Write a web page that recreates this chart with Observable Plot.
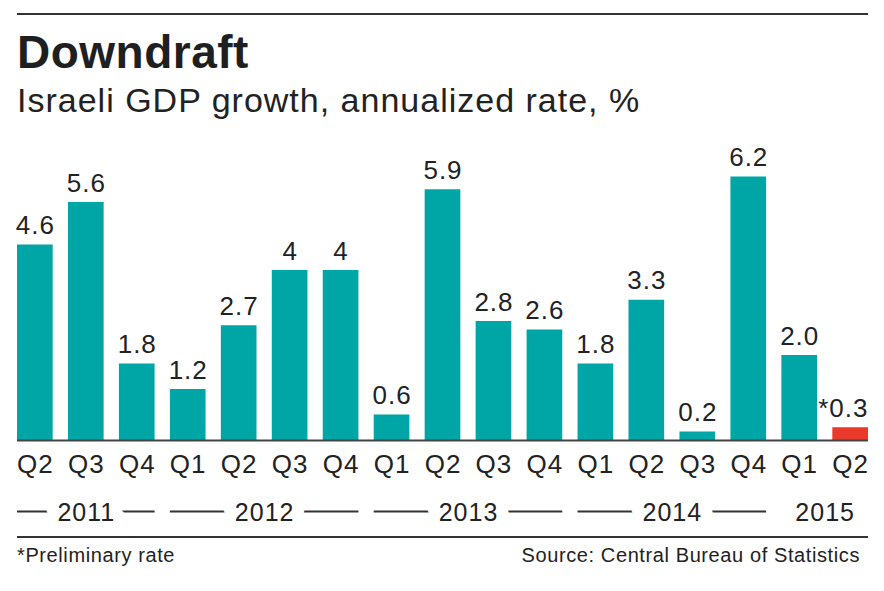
<!DOCTYPE html>
<html>
<head>
<meta charset="utf-8">
<script src="https://cdn.jsdelivr.net/npm/d3@7"></script>
<script src="https://cdn.jsdelivr.net/npm/@observablehq/plot@0.6"></script>
<style>
  html, body { margin: 0; padding: 0; background: #fff; }
  body { width: 884px; height: 591px; position: relative; overflow: hidden;
         font-family: "Liberation Sans", Arial, Helvetica, sans-serif; color: #222; }
  .rule { position: absolute; left: 17px; width: 851px; height: 2px; background: #333; }
  #title { position: absolute; left: 17px; top: 29px; font-size: 46px; line-height: 46px;
           font-weight: bold; letter-spacing: 0.5px; white-space: nowrap; color: #1f1f1f; }
  #subtitle { position: absolute; left: 17px; top: 83px; font-size: 34px; line-height: 34px;
              letter-spacing: 1px; white-space: nowrap; color: #222; }
  #chart { position: absolute; left: 0; top: 130px; }
  #chart text { letter-spacing: 1px; }
  .foot { position: absolute; top: 545px; font-size: 20px; line-height: 20px;
          letter-spacing: 0.6px; white-space: nowrap; color: #222; }
</style>
</head>
<body>
<div class="rule" style="top:13px"></div>
<div id="title">Downdraft</div>
<div id="subtitle">Israeli GDP growth, annualized rate, %</div>
<div id="chart"></div>
<div class="rule" style="top:536px"></div>
<div class="foot" style="left:17px">*Preliminary rate</div>
<div class="foot" style="right:24px">Source: Central Bureau of Statistics</div>
<script>
// ---- data ----
const quarters = ["Q2","Q3","Q4","Q1","Q2","Q3","Q4","Q1","Q2","Q3","Q4","Q1","Q2","Q3","Q4","Q1","Q2"];
const yearOf   = [2011,2011,2011,2012,2012,2012,2012,2013,2013,2013,2013,2014,2014,2014,2014,2015,2015];
const values   = [4.6,5.6,1.8,1.2,2.7,4.0,4.0,0.6,5.9,2.8,2.6,1.8,3.3,0.2,6.2,2.0,0.3];
const valueLabels = ["4.6","5.6","1.8","1.2","2.7","4","4","0.6","5.9","2.8","2.6","1.8","3.3","0.2","6.2","2.0","*0.3"];
const preliminary = [false,false,false,false,false,false,false,false,false,false,false,false,false,false,false,false,true];
const years = [2011, 2012, 2013, 2014, 2015];
const yearDashed = [true, true, true, true, false];

const teal = "#00a6a5";
const red = "#e8392b";
const ink = "#222";

const rows = quarters.map((q, i) => ({
  key: `${yearOf[i]} ${q}`,
  q, year: yearOf[i], value: values[i], label: valueLabels[i],
  status: preliminary[i] ? "prelim" : "final"
}));
const keys = rows.map(d => d.key);

const width = 884, height = 400;
const marginLeft = 17, marginRight = 16, marginTop = 12.5, marginBottom = 90;
const paddingInner = 0.3;
const step = (width - marginLeft - marginRight) / (keys.length - paddingInner);
const bandwidth = step * (1 - paddingInner);

const groups = years.map((y, j) => {
  const ks = rows.filter(d => d.year === y).map(d => d.key);
  const n = ks.length;
  return {
    year: String(y), first: ks[0], last: ks[n - 1],
    mid: ks[Math.floor((n - 1) / 2)], even: n % 2 === 0, dashed: yearDashed[j]
  };
});

const normalRows = rows.filter(d => d.status === "final");
const prelimRows = rows.filter(d => d.status === "prelim");

const plot = Plot.plot({
  width, height, marginLeft, marginRight, marginTop, marginBottom,
  style: { fontFamily: "'Liberation Sans', Arial, Helvetica, sans-serif", color: ink, overflow: "visible", background: "transparent" },
  x: { domain: keys, paddingInner, paddingOuter: 0, round: false, axis: null },
  y: { domain: [0, 7], axis: null },
  color: { domain: ["final", "prelim"], range: [teal, red] },
  marks: [
    Plot.barY(rows, { x: "key", y: "value", fill: "status" }),
    Plot.ruleY([0], { stroke: "#444", strokeWidth: 2 }),
    Plot.text(normalRows, { x: "key", y: "value", text: "label", lineAnchor: "bottom", dy: -11, fontSize: 26, fill: ink }),
    Plot.text(prelimRows, { x: "key", y: "value", text: "label", lineAnchor: "bottom", dy: -11, fontSize: 26, fill: ink,
                            textAnchor: "end", dx: bandwidth / 2 }),
    Plot.axisX({ domain: keys, tickSize: 0, tickPadding: 14, fontSize: 26, label: null,
                 tickFormat: k => k.split(" ")[1], fill: ink }),
    Plot.ruleY(groups.filter(g => g.dashed), { x1: "first", x2: "last", y: 0, dy: 71, stroke: "#333", strokeWidth: 2 }),
    Plot.text(groups.filter(g => !g.even), { x: "mid", y: 0, text: "year", lineAnchor: "bottom", dy: 80,
                 fontSize: 25, fill: ink, stroke: "white", strokeWidth: 25 }),
    Plot.text(groups.filter(g => g.even), { x: "mid", y: 0, text: "year", lineAnchor: "bottom", dy: 80, dx: step / 2,
                 fontSize: 25, fill: ink, stroke: "white", strokeWidth: 25 })
  ]
});
document.getElementById("chart").appendChild(plot);
</script>
</body>
</html>
